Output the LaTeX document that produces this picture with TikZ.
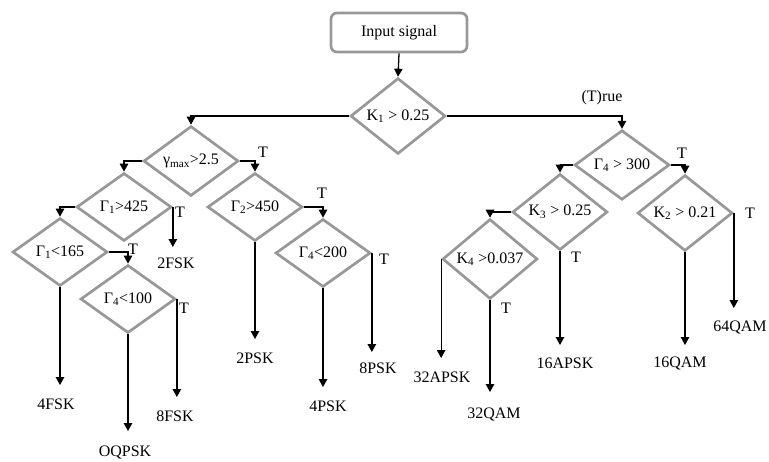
\documentclass[tikz,border=0pt]{standalone}
\usepackage{fontspec}
\setmainfont{Liberation Serif}
\usetikzlibrary{shapes.geometric,arrows.meta}
\definecolor{bgray}{RGB}{152,152,152}
\tikzset{
  dia/.style={diamond, draw=bgray, line width=2.7pt, minimum width=95pt, minimum height=68pt, inner sep=0pt, font=\fontsize{16}{19}\selectfont},
  startbox/.style={rectangle, rounded corners=6pt, draw=bgray, line width=2.7pt, minimum width=136pt, minimum height=39pt, font=\fontsize{16}{19}\selectfont},
  arr/.style={draw=black, line width=1.3pt, -{Triangle[length=8pt,width=8.5pt]}},
  lbl/.style={font=\fontsize{16}{19}\selectfont, inner sep=0pt},
  tl/.style={font=\fontsize{16}{19}\selectfont, inner sep=0pt}
}
\begin{document}
\begin{tikzpicture}[x=1pt,y=-1pt]
\useasboundingbox (0,0) rectangle (769,461);
% nodes
\node[startbox] (inp) at (399,32.5) {Input signal};
\node[dia] (k1) at (398,116) {K\textsubscript{1} > 0.25};
\node[dia] (gam) at (191,161) {γ\textsubscript{max}>2.5};
\node[dia] (g1a) at (124,207) {Γ\textsubscript{1}>425};
\node[dia] (g1b) at (60,252) {Γ\textsubscript{1}<165};
\node[dia] (g4a) at (128,299) {Γ\textsubscript{4}<100};
\node[dia] (g2) at (255,207) {Γ\textsubscript{2}>450};
\node[dia] (g4b) at (323,253) {Γ\textsubscript{4}<200};
\node[dia] (g4c) at (622,165) {Γ\textsubscript{4} > 300};
\node[dia] (k3) at (560,212) {K\textsubscript{3} > 0.25};
\node[dia] (k4) at (490,259) {K\textsubscript{4} >0.037};
\node[dia] (k2) at (685,213) {K\textsubscript{2} > 0.21};
% output labels
\node[lbl] (o2fsk) at (176,263) {2FSK};
\node[lbl] (o4fsk) at (56,404) {4FSK};
\node[lbl] (o8fsk) at (175,416) {8FSK};
\node[lbl] (ooq) at (125,452) {OQPSK};
\node[lbl] (o2psk) at (255,358) {2PSK};
\node[lbl] (o4psk) at (328,406) {4PSK};
\node[lbl] (o8psk) at (378,368) {8PSK};
\node[lbl] (o16apsk) at (565,363) {16APSK};
\node[lbl] (o32apsk) at (442,377) {32APSK};
\node[lbl] (o32qam) at (494,414) {32QAM};
\node[lbl] (o16qam) at (680,363) {16QAM};
\node[lbl] (o64qam) at (740,327) {64QAM};
% arrow end coordinates
\coordinate (e2fsk) at (0,247);
\coordinate (e4fsk) at (0,385);
\coordinate (e8fsk) at (0,397);
\coordinate (eoq) at (0,431);
\coordinate (e2psk) at (0,339);
\coordinate (e4psk) at (0,387);
\coordinate (e8psk) at (0,352);
\coordinate (e16apsk) at (0,345);
\coordinate (e32apsk) at (0,358);
\coordinate (e32qam) at (0,392);
\coordinate (e16qam) at (0,345);
\coordinate (e64qam) at (0,308);
% connectors
\draw[arr] (inp.south) -- (k1.north);
\draw[arr] (k1.west) -| (gam.north);
\draw[arr] (k1.east) -| (g4c.north);
\draw[arr] (gam.west) -| (g1a.north);
\draw[arr] (gam.east) -| (g2.north);
\draw[arr] (g1a.west) -| (g1b.north);
\draw[arr] (g1a.east) -- (g1a.east |- e2fsk);
\draw[arr] (g1b.east) -| (g4a.north);
\draw[arr] (g1b.south) -- (g1b.south |- e4fsk);
\draw[arr] (g4a.east) -- (g4a.east |- e8fsk);
\draw[arr] (g4a.south) -- (g4a.south |- eoq);
\draw[arr] (g2.south) -- (g2.south |- e2psk);
\draw[arr] (g2.east) -| (g4b.north);
\draw[arr] (g4b.south) -- (g4b.south |- e4psk);
\draw[arr] (g4b.east) -- (g4b.east |- e8psk);
\draw[arr] (g4c.east) -| (k2.north);
\draw[arr] (g4c.west) -| (k3.north);
\draw[arr] (k3.west) -| (k4.north);
\draw[arr] (k3.south) -- (k3.south |- e16apsk);
\draw[arr] (k4.west) -- (k4.west |- e32apsk);
\draw[arr] (k4.south) -- (k4.south |- e32qam);
\draw[arr] (k2.south) -- (k2.south |- e16qam);
\draw[arr] (k2.east) -- (k2.east |- e64qam);
% T labels
\node[tl] (ttrue) at (602,98) {(T)rue};
\node[tl] (t1) at (263,152) {T};
\node[tl] (t2) at (180,212) {T};
\node[tl] (t3) at (133,249) {T};
\node[tl] (t4) at (184,308) {T};
\node[tl] (t5) at (322,193) {T};
\node[tl] (t6) at (384,259) {T};
\node[tl] (t7) at (682,153) {T};
\node[tl] (t8) at (576,257) {T};
\node[tl] (t9) at (506,308) {T};
\node[tl] (t10) at (750,213) {T};
\end{tikzpicture}
\end{document}
